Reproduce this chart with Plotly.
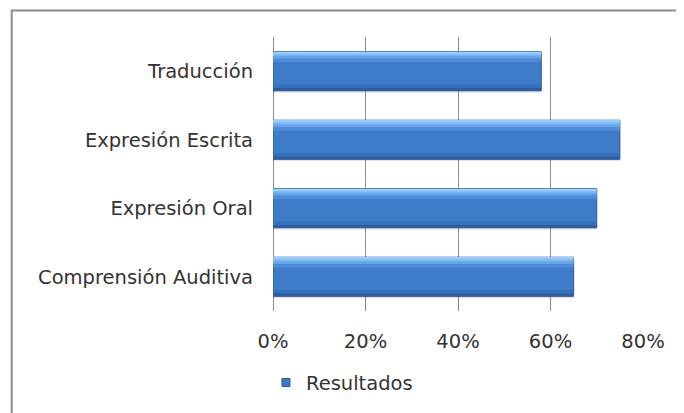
import plotly.graph_objects as go

categories = ["Comprensión Auditiva", "Expresión Oral", "Expresión Escrita", "Traducción"]
resultados = [0.65, 0.70, 0.75, 0.58]
x_ticks = [0, 0.2, 0.4, 0.6, 0.8]
series_name = "Resultados"

FONT = "DejaVu Sans"
TXT = "#333333"
FS = 19.5

# page is drawn with an 8px body margin; figure coordinates = window - 8
L, T = 265, 29
PW, PH = 370.3, 274
R = 684 - L - PW
B = 413 - T - PH

fig = go.Figure()

HALF = 0.285
# layered bars imitating the bevelled gradient of the original (from bottom to top)
layers = [
    (-HALF - 0.03, 2 * HALF, "rgba(0,0,0,0.10)", 0),   # soft shadow
    (-HALF, 2 * HALF, "#3E7BC8", 1),                    # body
    (-HALF, 0.09, "#3770BA", 0),
    (-HALF, 0.04, "#2D5D9E", 0),                        # bottom dark edge
    (HALF - 0.15, 0.05, "#4E8CDA", 0),
    (HALF - 0.10, 0.05, "#68A5E8", 0),
    (HALF - 0.06, 0.04, "#82BCF2", 0),
    (HALF - 0.025, 0.025, "#9CCDF9", 0),               # top highlight
]
for off, w, col, lw in layers:
    fig.add_trace(go.Bar(
        y=categories, x=resultados, orientation="h",
        offset=off, width=w,
        marker=dict(color=col, line=dict(color="#2A5490", width=lw)),
        showlegend=False, hoverinfo="skip",
    ))

# legend entry
fig.add_trace(go.Scatter(
    x=[None], y=[None], mode="markers", name=series_name,
    marker=dict(symbol="square", size=8, color="#3C78C5",
                line=dict(color="#2A5490", width=1)),
    showlegend=True,
))

fig.update_layout(
    width=684, height=413,
    margin=dict(l=L, r=R, t=T, b=B, autoexpand=False),
    paper_bgcolor="white", plot_bgcolor="white",
    barmode="overlay",
    font=dict(family=FONT, size=FS, color=TXT),
    showlegend=True,
    legend=dict(orientation="h", x=-0.019, xanchor="left", y=-0.262, yanchor="middle",
                font=dict(family=FONT, size=FS, color=TXT), bgcolor="rgba(0,0,0,0)"),
    xaxis=dict(range=[0, 0.8], tickvals=x_ticks, tickformat=".0%",
               showgrid=True, gridcolor="#8c8c8c", gridwidth=1,
               zeroline=True, zerolinecolor="#8c8c8c", zerolinewidth=1,
               showline=False, ticks="", ticklabelstandoff=16,
               tickfont=dict(family=FONT, size=FS, color=TXT)),
    yaxis=dict(categoryorder="array", categoryarray=categories,
               showgrid=False, showline=False, ticks="", ticklabelstandoff=19,
               tickfont=dict(family=FONT, size=FS, color=TXT)),
    shapes=[dict(type="rect", xref="paper", yref="paper",
                 x0=(3.5 - L) / PW, x1=3, y0=-3, y1=(T + PH - 2.5) / PH,
                 line=dict(color="#8c8c8c", width=2), fillcolor="rgba(0,0,0,0)",
                 layer="below")],
)

fig.write_html("out.html")
